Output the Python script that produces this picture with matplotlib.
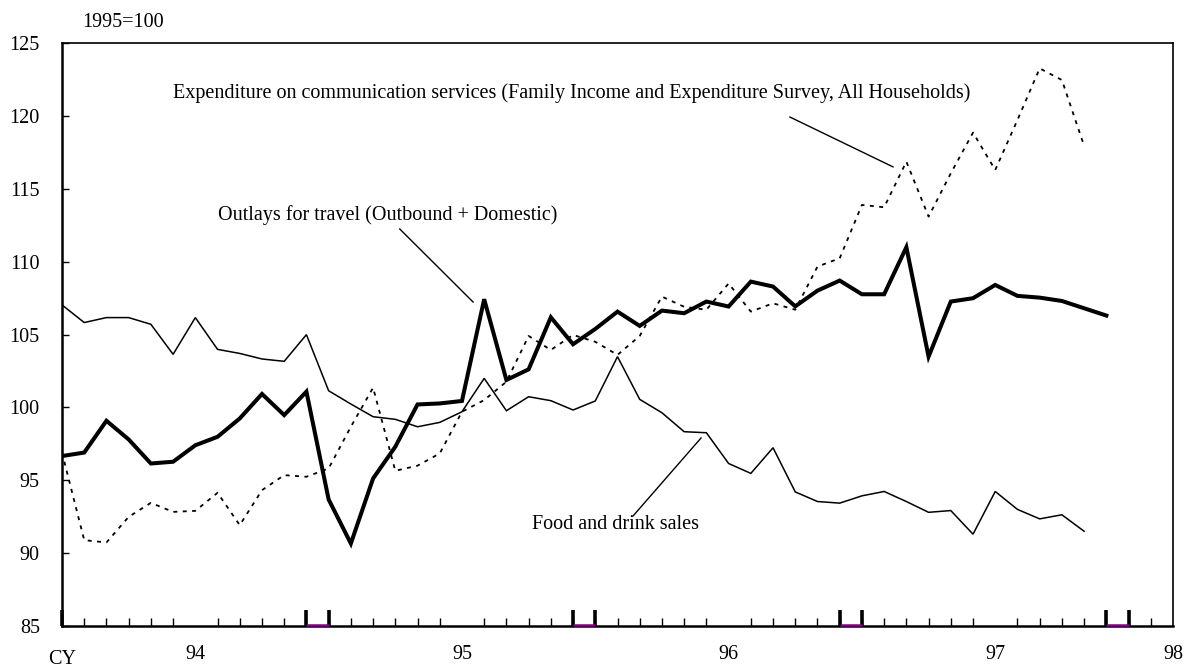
import matplotlib
matplotlib.use("Agg")
import matplotlib.pyplot as plt
import matplotlib.transforms as mtransforms
import numpy as np

plt.rcParams['font.family'] = ['Liberation Serif', 'DejaVu Serif']

# ---------------- data ----------------
travel = [96.66, 96.9, 99.08, 97.8, 96.15, 96.27, 97.4, 97.98, 99.24, 100.92, 99.47, 101.08,
          93.68, 90.66, 95.12, 97.3, 100.2, 100.27, 100.44, 107.42, 101.88, 102.61, 106.18, 104.33,
          105.38, 106.57, 105.59, 106.64, 106.46, 107.26, 106.92, 108.63, 108.29, 106.93, 108.01, 108.7,
          107.76, 107.76, 110.99, 103.48, 107.26, 107.49, 108.4, 107.65, 107.53, 107.3, 106.8, 106.3]
food = [107.03, 105.82, 106.16, 106.16, 105.7, 103.64, 106.16, 103.98, 103.7, 103.32, 103.16, 104.99,
        101.14, 100.23, 99.36, 99.18, 98.67, 98.97, 99.7, 101.99, 99.77, 100.73, 100.46, 99.82,
        100.44, 103.48, 100.55, 99.63, 98.33, 98.26, 96.15, 95.47, 97.23, 94.2, 93.54, 93.43,
        93.93, 94.23, 93.54, 92.8, 92.92, 91.3, 94.23, 93.0, 92.35, 92.63, 91.5]
comm = [96.9, 90.89, 90.73, 92.49, 93.45, 92.83, 92.9, 94.14, 91.92, 94.32, 95.35, 95.24,
        95.81, 98.67, 101.35, 95.65, 96.0, 96.84, 99.7, 100.5, 101.76, 104.9, 103.94, 104.97,
        104.5, 103.6, 104.9, 107.6, 106.9, 106.7, 108.5, 106.57, 107.14, 106.7, 109.66, 110.23,
        113.89, 113.73, 116.86, 113.09, 116.06, 118.85, 116.29, 119.72, 123.26, 122.46, 117.94]

year_labels = ["94", "95", "96", "97", "98"]
year_label_pos = [6, 18, 30, 42, 50]        # month index of label
year_breaks = [11, 23, 35, 47]               # double thick ticks at break and break+1
y_ticks = [85, 90, 95, 100, 105, 110, 115, 120, 125]
n_months = 50

label_comm = "Expenditure on communication services (Family Income and Expenditure Survey, All Households)"
label_travel = "Outlays for travel (Outbound + Domestic)"
label_food = "Food and drink sales"

# ---------------- figure ----------------
W, H = 1186, 669
fig = plt.figure(figsize=(W / 100, H / 100), dpi=100)
L, R, T, B = 62, 1173, 43, 626
ax = fig.add_axes([L / W, 1 - B / H, (R - L) / W, (B - T) / H])

FS = 14.5

ax.plot(range(len(food)), food, color='black', lw=1.1, solid_joinstyle='miter')
ax.plot(range(len(comm)), comm, color='black', lw=1.3, linestyle=(0, (2.2, 3.0)))
ax.plot(range(len(travel)), travel, color='black', lw=2.9, solid_joinstyle='miter')

ax.set_xlim(0, n_months)
ax.set_ylim(85, 125)

# y axis
ax.set_yticks(y_ticks)
ax.set_yticklabels([str(v) for v in y_ticks], fontsize=FS)
ax.tick_params(axis='y', direction='in', length=5, width=1, pad=16)

# x axis: month ticks, labels as major ticks with zero length
ax.set_xticks(year_label_pos)
ax.set_xticklabels(year_labels, fontsize=FS)
ax.tick_params(axis='x', which='major', length=0, pad=14)
ax.set_xticks(np.arange(0, n_months + 1), minor=True)
ax.tick_params(axis='x', which='minor', direction='in', length=6, width=1.0)

for s in ax.spines.values():
    s.set_linewidth(1.2)
ax.spines['bottom'].set_linewidth(1.8)
ax.spines['left'].set_linewidth(1.8)

trans = mtransforms.blended_transform_factory(ax.transData, ax.transAxes)
thick_x = [0]
for b in year_breaks:
    thick_x += [b, b + 1]
ax.vlines(thick_x, 0, 16 / (B - T), transform=trans, color='black', lw=2.6, clip_on=False)
for b in year_breaks:
    ax.plot([b, b + 1], [0.002, 0.002], transform=trans, color='#800080', lw=1.8,
            solid_capstyle='butt', clip_on=False, zorder=5)

ax.text(0, -0.058, "CY", transform=trans, ha='center', va='center', fontsize=FS)
ax.text(0.018, 1.036, "1995=100", transform=ax.transAxes, ha='left', va='center', fontsize=FS)

# annotations
ax.text(5.0, 121.57, label_comm, ha='left', va='center', fontsize=FS)
ax.plot([32.76, 37.4], [119.92, 116.5], color='black', lw=1.0)

ax.text(7.02, 113.2, label_travel, ha='left', va='center', fontsize=FS)
ax.plot([15.2, 18.5], [112.24, 107.23], color='black', lw=1.0)

ax.text(21.15, 91.93, label_food, ha='left', va='center', fontsize=FS)
ax.plot([25.7, 28.76], [92.55, 97.9], color='black', lw=1.0)

fig.savefig("out.png", dpi=100)
